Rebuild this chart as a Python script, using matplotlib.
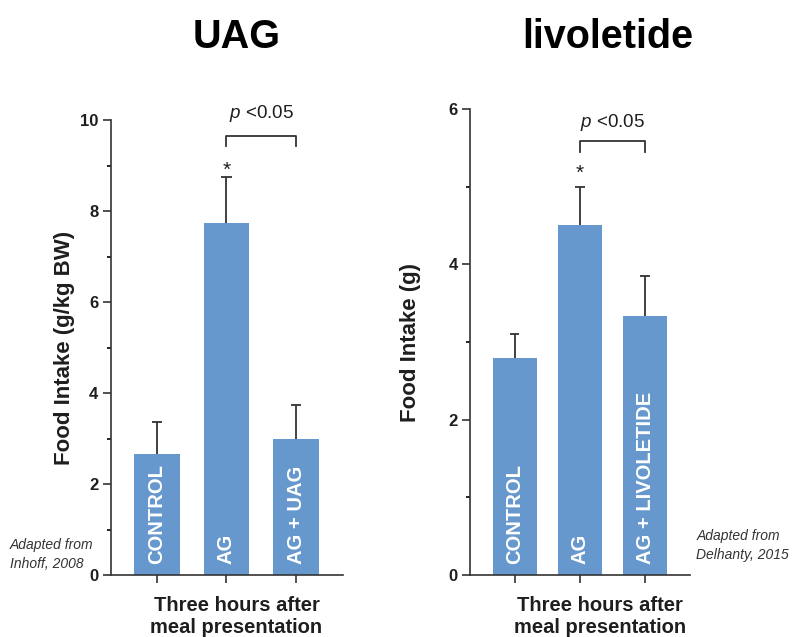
import matplotlib
matplotlib.use("Agg")
import matplotlib.pyplot as plt

# data
categories_left = ['CONTROL', 'AG', 'AG + UAG']
values_left = [2.66, 7.74, 2.99]
errors_left = [0.70, 1.01, 0.74]

categories_right = ['CONTROL', 'AG', 'AG + LIVOLETIDE']
values_right = [2.80, 4.50, 3.34]
errors_right = [0.30, 0.50, 0.51]

BAR_COLOR = '#6798CD'
INK = '#1e1e1e'
LINE = '#333333'

plt.rcParams['font.family'] = ['Liberation Sans', 'DejaVu Sans']
plt.rcParams['mathtext.fontset'] = 'custom'
plt.rcParams['mathtext.it'] = 'Liberation Sans:italic'
plt.rcParams['mathtext.rm'] = 'Liberation Sans'
plt.rcParams['axes.linewidth'] = 1.2
plt.rcParams['axes.edgecolor'] = LINE
plt.rcParams['ytick.major.size'] = 5.5
plt.rcParams['ytick.minor.size'] = 3
plt.rcParams['xtick.major.size'] = 5.5
plt.rcParams['ytick.major.width'] = 1.2
plt.rcParams['ytick.minor.width'] = 1.2
plt.rcParams['xtick.major.width'] = 1.2

fig = plt.figure(figsize=(7.96, 6.37), dpi=100)


def draw_panel(ax, cats, vals, errs, ymax, xlim, width, ylabel,
               bracket_y, bracket_drop, star_y, p_y, xlabel_x):
    pos = list(range(len(cats)))
    ax.bar(pos, vals, width=width, color=BAR_COLOR, zorder=2)
    # upper error bars only
    tops = [v + e for v, e in zip(vals, errs)]
    cw = width * 0.11
    ax.vlines(pos, vals, tops, colors=LINE, lw=1.3, zorder=1)
    ax.hlines(tops, [p - cw for p in pos], [p + cw for p in pos],
              colors=LINE, lw=1.3, zorder=1)
    for i, c in enumerate(cats):
        ax.annotate(c, xy=(i, 0), xytext=(0, 8), textcoords='offset points',
                    rotation=90, ha='center', va='bottom', color='white',
                    fontsize=14.5, fontweight='bold', zorder=3)
    ax.set_xlim(*xlim)
    ax.set_ylim(0, ymax)
    ax.set_xticks(pos)
    ax.set_xticklabels([])
    ax.set_yticks(range(0, ymax + 1, 2))
    ax.set_yticks(range(1, ymax, 2), minor=True)
    ax.tick_params(axis='y', labelsize=12, colors=LINE, labelcolor=INK)
    ax.tick_params(axis='x', colors=LINE)
    for lbl in ax.get_yticklabels():
        lbl.set_fontweight('bold')
    for s in ['top', 'right']:
        ax.spines[s].set_visible(False)
    ax.set_ylabel(ylabel, fontsize=16, fontweight='bold', color=INK)
    ax.set_xlabel('Three hours after\nmeal presentation', fontsize=14.5,
                  fontweight='bold', color=INK, linespacing=1.2)
    ax.xaxis.set_label_coords(xlabel_x, -0.046)
    # significance bracket between AG and the combination
    ax.plot([1, 1, 2, 2], [bracket_drop, bracket_y, bracket_y, bracket_drop],
            color=LINE, lw=1.3, clip_on=False)
    ax.text(1, star_y, '*', ha='center', va='baseline', fontsize=15, color=INK)
    ax.text(1.5, p_y, r'$p$ <0.05', ha='center', va='center', fontsize=13.5,
            color=INK, clip_on=False)


ax1 = fig.add_axes([0.1394, 0.0973, 0.2915, 0.7143])
draw_panel(ax1, categories_left, values_left, errors_left, 10,
           (-0.662, 2.676), 0.66, 'Food Intake (g/kg BW)',
           9.65, 9.42, 8.77, 10.15, 0.541)
ax1.yaxis.labelpad = 4

ax2 = fig.add_axes([0.5905, 0.0973, 0.2764, 0.7316])
draw_panel(ax2, categories_right, values_right, errors_right, 6,
           (-0.682, 2.69), 0.674, 'Food Intake (g)',
           5.59, 5.45, 5.10, 5.82, 0.59)
ax2.yaxis.labelpad = 20

fig.text(0.297, 0.942, 'UAG', ha='center', va='center', fontsize=28.5,
         fontweight='bold', color='black')
fig.text(0.764, 0.942, 'livoletide', ha='center', va='center', fontsize=28.5,
         fontweight='bold', color='black')

fig.text(0.012, 0.13, 'Adapted from\nInhoff, 2008', ha='left', va='center',
         fontsize=10, style='italic', color=LINE, linespacing=1.45)
fig.text(0.875, 0.143, 'Adapted from\nDelhanty, 2015', ha='left', va='center',
         fontsize=10, style='italic', color=LINE, linespacing=1.45)

fig.savefig('out.png', dpi=100)
